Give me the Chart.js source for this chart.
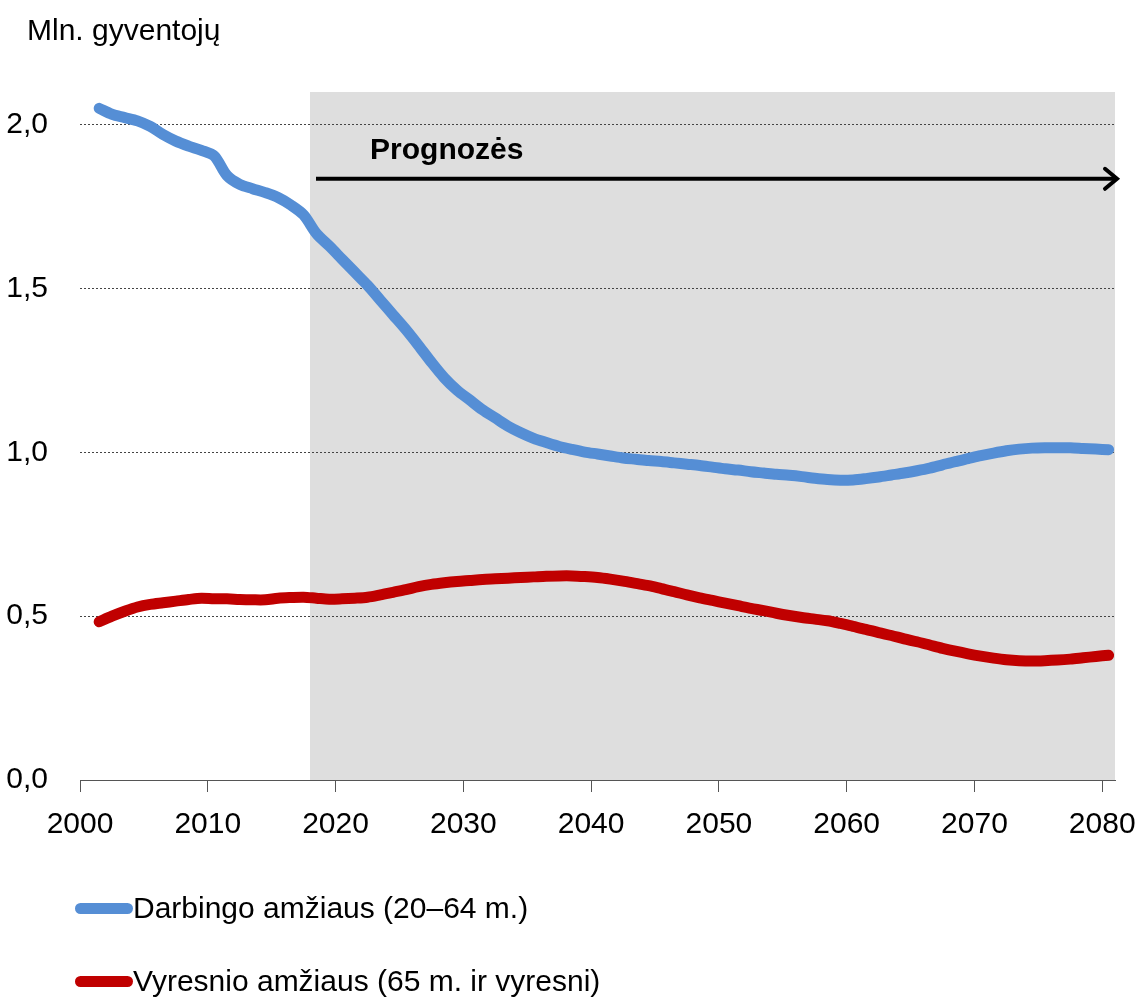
<!DOCTYPE html>
<html>
<head>
<meta charset="utf-8">
<script src="https://cdn.jsdelivr.net/npm/chart.js@4"></script>
<style>
  body { margin: 0; background: #fff; }
  #wrap { position: relative; width: 1142px; height: 998px; }
  .txt { position: absolute; font-family: "Liberation Sans Narrow", "Arial Narrow", "Liberation Sans", sans-serif; font-size: 30px; line-height: 30px; color: #000; white-space: nowrap; }
  .leg { position: absolute; left: 75px; height: 30px; }
  .leg .sw { position: absolute; left: 0; top: 10px; width: 58px; height: 11px; border-radius: 6px; }
  .leg .lab { position: absolute; left: 58px; top: 0; }
</style>
</head>
<body>
<div id="wrap">
  <canvas id="chart" width="1142" height="998"></canvas>
  <div class="txt" style="left:27px; top:15px;">Mln. gyventojų</div>
  <div class="leg" style="top:893px;"><div class="sw" style="background:#558ED5"></div><div class="txt lab">Darbingo amžiaus (20–64 m.)</div></div>
  <div class="leg" style="top:966px;"><div class="sw" style="background:#C00000"></div><div class="txt lab">Vyresnio amžiaus (65 m. ir vyresni)</div></div>
</div>
<script>
  const years = [];
  for (let y = 2001; y <= 2080; y++) years.push(y);

  // Darbingo amžiaus (20–64 m.), mln.
  const workingAge = [
    2.050, 2.032, 2.022, 2.012, 1.995, 1.970, 1.950, 1.935, 1.922, 1.905,
    1.845, 1.818, 1.805, 1.793, 1.778, 1.755, 1.725, 1.668, 1.630, 1.590,
    1.550, 1.510, 1.465, 1.420, 1.375, 1.326, 1.275, 1.228, 1.190, 1.160,
    1.130, 1.105, 1.080, 1.060, 1.043, 1.030, 1.018, 1.009, 1.001, 0.995,
    0.989, 0.983, 0.979, 0.975, 0.972, 0.968, 0.964, 0.960, 0.955, 0.950,
    0.946, 0.941, 0.937, 0.933, 0.930, 0.926, 0.921, 0.917, 0.915, 0.916,
    0.920, 0.925, 0.931, 0.937, 0.944, 0.952, 0.962, 0.972, 0.981, 0.990,
    0.998, 1.005, 1.010, 1.013, 1.014, 1.014, 1.014, 1.012, 1.010, 1.008
  ];

  // Vyresnio amžiaus (65 m. ir vyresni), mln.
  const elderly = [
    0.483, 0.500, 0.515, 0.528, 0.536, 0.541, 0.546, 0.551, 0.555, 0.553,
    0.553, 0.551, 0.550, 0.550, 0.555, 0.557, 0.558, 0.555, 0.552, 0.553,
    0.555, 0.558, 0.565, 0.573, 0.581, 0.590, 0.597, 0.602, 0.606, 0.609,
    0.612, 0.614, 0.616, 0.618, 0.620, 0.622, 0.623, 0.623, 0.621, 0.618,
    0.613, 0.607, 0.600, 0.593, 0.584, 0.575, 0.565, 0.556, 0.548, 0.540,
    0.532, 0.524, 0.517, 0.509, 0.502, 0.496, 0.491, 0.486, 0.478, 0.469,
    0.460, 0.450, 0.441, 0.431, 0.422, 0.412, 0.402, 0.393, 0.385, 0.378,
    0.372, 0.367, 0.364, 0.363, 0.364, 0.366, 0.369, 0.373, 0.377, 0.381
  ];

  const midYear = 0.5;        // values plotted at mid-year
  const forecastStart = 2018;
  const forecastLabel = 'Prognozės';

  const FONT = '"Liberation Sans Narrow", "Arial Narrow", "Liberation Sans", sans-serif';

  const forecastPlugin = {
    id: 'forecast',
    beforeDraw(chart) {
      const { ctx, chartArea, scales } = chart;
      const x0 = scales.x.getPixelForValue(forecastStart);
      ctx.save();
      ctx.fillStyle = '#DEDEDE';
      ctx.fillRect(x0, chartArea.top, chartArea.right - x0, chartArea.bottom - chartArea.top);
      ctx.restore();
    },
    afterDraw(chart) {
      const { ctx, chartArea, scales } = chart;
      const x0 = scales.x.getPixelForValue(forecastStart) + 6;
      const x1 = chartArea.right + 2;
      const y = scales.y.getPixelForValue(1.835);
      ctx.save();
      ctx.strokeStyle = '#000';
      ctx.lineWidth = 4;
      ctx.beginPath();
      ctx.moveTo(x0, y);
      ctx.lineTo(x1 - 2, y);
      ctx.stroke();
      ctx.lineCap = 'round';
      ctx.beginPath();
      ctx.moveTo(x1 - 12, y - 10);
      ctx.lineTo(x1, y);
      ctx.lineTo(x1 - 12, y + 10);
      ctx.stroke();
      ctx.fillStyle = '#000';
      ctx.font = 'bold 30px ' + FONT;
      ctx.textBaseline = 'alphabetic';
      ctx.fillText(forecastLabel, scales.x.getPixelForValue(2022.7), scales.y.getPixelForValue(1.895));
      ctx.restore();
    }
  };

  new Chart(document.getElementById('chart'), {
    type: 'line',
    data: {
      datasets: [
        {
          label: 'Darbingo amžiaus (20–64 m.)',
          data: years.map((y, i) => ({ x: y + midYear, y: workingAge[i] })),
          borderColor: '#558ED5',
          borderWidth: 11,
          borderCapStyle: 'round',
          borderJoinStyle: 'round',
          pointRadius: 0,
          tension: 0.3,
          clip: false
        },
        {
          label: 'Vyresnio amžiaus (65 m. ir vyresni)',
          data: years.map((y, i) => ({ x: y + midYear, y: elderly[i] })),
          borderColor: '#C00000',
          borderWidth: 11,
          borderCapStyle: 'round',
          borderJoinStyle: 'round',
          pointRadius: 0,
          tension: 0.3,
          clip: false
        }
      ]
    },
    options: {
      responsive: false,
      animation: false,
      layout: { padding: { top: 92, right: 27, left: 0, bottom: 0 } },
      plugins: { legend: { display: false }, tooltip: { enabled: false } },
      scales: {
        x: {
          type: 'linear',
          min: 2000,
          max: 2081,
          afterFit: s => { s.height = 218; s.paddingRight = 0; s.paddingLeft = 0; },
          ticks: {
            stepSize: 10,
            includeBounds: false,
            autoSkip: false,
            maxRotation: 0,
            padding: 15,
            color: '#000',
            font: { family: FONT, size: 30 },
            callback: v => String(v)
          },
          grid: { drawOnChartArea: false, drawTicks: true, tickLength: 12, color: '#555' },
          border: { display: true, color: '#555', width: 1 }
        },
        y: {
          min: 0,
          max: 2.1,
          afterFit: s => { s.width = 80; },
          ticks: {
            stepSize: 0.5,
            includeBounds: false,
            padding: 32,
            color: '#000',
            font: { family: FONT, size: 30 },
            callback: v => v.toFixed(1).replace('.', ',')
          },
          grid: { color: '#444', drawTicks: false, lineWidth: 1 },
          border: { display: false, dash: [2, 2] }
        }
      }
    },
    plugins: [forecastPlugin]
  });
</script>
</body>
</html>
